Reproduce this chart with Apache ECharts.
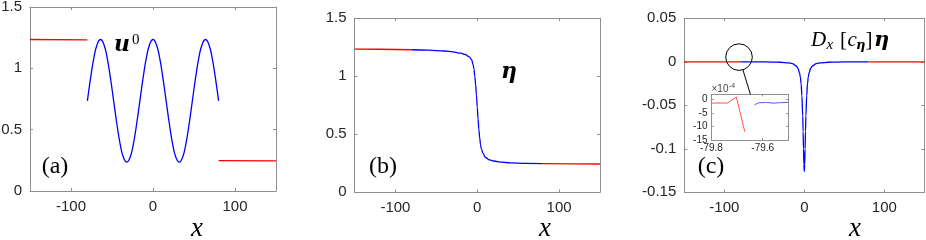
<!DOCTYPE html>
<html><head><meta charset="utf-8">
<script src="https://cdn.jsdelivr.net/npm/echarts@6/dist/echarts.min.js"></script>
<style>html,body{margin:0;padding:0;background:#fff}#c{width:926px;height:240px}</style>
</head><body><div id="c"></div>
<script>
// ---------- data ----------
const mainXTicks = [-100, 0, 100];
const profYTicks = [0, 0.5, 1, 1.5];
const derivYTicks = [-0.15, -0.1, -0.05, 0, 0.05];
const insetXTicks = [-79.8, -79.6];
const insetYTicks = [-15, -10, -5, 0];

// panel (a): u0
const uLeftX = [-150, -80];
const uLeftY = [1.235, 1.232];
const uRightX = [80, 150];
const uRightY = [0.247, 0.245];
const uMidX = [-80,-76,-72,-68,-64,-60,-56,-52,-48,-44,-40,-36,-32,-28,-24,-20,-16,-12,-8,-4,0,4,8,12,16,20,24,28,32,36,40,44,48,52,56,60,64,68,72,76,80];
const uMidY = [0.735,0.926,1.089,1.197,1.235,1.197,1.089,0.926,0.735,0.544,0.381,0.273,0.235,0.273,0.381,0.544,0.735,0.926,1.089,1.197,1.235,1.197,1.089,0.926,0.735,0.544,0.381,0.273,0.235,0.273,0.381,0.544,0.735,0.926,1.089,1.197,1.235,1.197,1.089,0.926,0.735];

// panel (b): eta
const etaLeftX = [-150, -120, -80];
const etaLeftY = [1.235, 1.233, 1.229];
const etaMidX = [-80,-60,-40,-30,-20,-15,-10,-7,-5,-4,-3,-2,-1,0,1,2,3,4,5,7,10,15,20,30,40,60,80];
const etaMidY = [1.229,1.225,1.218,1.211,1.199,1.189,1.170,1.145,1.100,1.060,1.000,0.930,0.840,0.735,0.630,0.540,0.470,0.410,0.375,0.335,0.300,0.280,0.270,0.260,0.254,0.249,0.247];
const etaRightX = [80, 120, 150];
const etaRightY = [0.247, 0.245, 0.244];

// panel (c): D_x[c_eta] eta
const dLeftX = [-150, -80];
const dLeftY = [0, 0];
const dMidX = [-80,-60,-40,-30,-20,-15,-10,-8,-6,-5,-4,-3,-2,-1.5,-1,-0.5,0,0.5,1,1.5,2,3,4,5,6,8,10,15,20,30,40,60,80];
const dMidY = [0,-0.0001,-0.0003,-0.0005,-0.0012,-0.0021,-0.0048,-0.0074,-0.0126,-0.0174,-0.025,-0.039,-0.062,-0.080,-0.100,-0.118,-0.126,-0.118,-0.100,-0.080,-0.062,-0.039,-0.025,-0.0174,-0.0126,-0.0074,-0.0048,-0.0021,-0.0012,-0.0005,-0.0003,-0.0001,0];
const dRightX = [80, 150];
const dRightY = [0, 0];

// inset of (c), units of 1e-4
const insetRedX = [-79.8, -79.738, -79.703, -79.670];
const insetRedY = [-1.25, -1.25, 1.0, -11.9];
const insetBlueX = [-79.632, -79.617, -79.585, -79.56, -79.53, -79.5];
const insetBlueY = [-1.9, -1.2, -1.0, -1.3, -1.1, -1.0];

// ---------- build ----------
const zip = (xs, ys) => xs.map((x, i) => [x, ys[i]]);
const AX = '#8f8f8f', TXT = '#262626';
const RED = '#ff0000', BLUE = '#0000ff';
const fmt = v => String(Math.round(v * 100) / 100);

function xAxes(gi, min, max, ticks, fs, tl, margin) {
  const base = {
    type: 'value', gridIndex: gi, min, max, splitLine: {show: false},
    axisLine: {show: true, onZero: false, lineStyle: {color: AX, width: 1}},
    axisTick: {show: true, inside: true, length: tl, customValues: ticks, lineStyle: {color: AX, width: 1}}
  };
  return [
    Object.assign({}, base, {position: 'bottom',
      axisLabel: {show: true, customValues: ticks, color: TXT, fontSize: fs, fontFamily: 'Liberation Sans', margin, formatter: fmt}}),
    Object.assign({}, base, {position: 'top', axisLabel: {show: false}})
  ];
}
function yAxes(gi, min, max, ticks, fs, tl, margin) {
  const base = {
    type: 'value', gridIndex: gi, min, max, splitLine: {show: false},
    axisLine: {show: true, onZero: false, lineStyle: {color: AX, width: 1}},
    axisTick: {show: true, inside: true, length: tl, customValues: ticks, lineStyle: {color: AX, width: 1}}
  };
  return [
    Object.assign({}, base, {position: 'left',
      axisLabel: {show: true, customValues: ticks, color: TXT, fontSize: fs, fontFamily: 'Liberation Sans', margin, formatter: fmt}}),
    Object.assign({}, base, {position: 'right', axisLabel: {show: false}})
  ];
}

const grids = [
  {left: 30, top: 7, width: 246, height: 184},
  {left: 354.5, top: 18.3, width: 245.5, height: 174},
  {left: 684.3, top: 18.3, width: 240, height: 174},
  {left: 711.5, top: 94.3, width: 76.8, height: 45.7, show: true, backgroundColor: '#fff', borderWidth: 0}
].map(g => Object.assign({containLabel: false, outerBoundsMode: 'none'}, g));

const xAxis = [].concat(
  xAxes(0, -150, 150, mainXTicks, 15, 3, 8),
  xAxes(1, -150, 150, mainXTicks, 15, 3, 8),
  xAxes(2, -150, 150, mainXTicks, 15, 3, 8),
  xAxes(3, -79.8, -79.5, insetXTicks, 10, 2, 3)
);
const yAxis = [].concat(
  yAxes(0, 0, 1.5, profYTicks, 15, 3, 8),
  yAxes(1, 0, 1.5, profYTicks, 15, 3, 8),
  yAxes(2, -0.15, 0.05, derivYTicks, 15, 3, 8),
  yAxes(3, -15, 2, insetYTicks, 10, 2, 4)
);

function line(ax, xs, ys, color, w, smooth, mono) {
  const s = {
    type: 'line', xAxisIndex: ax * 2, yAxisIndex: ax * 2, data: zip(xs, ys),
    showSymbol: false, symbol: 'none', silent: true, animation: false,
    smooth: smooth || false,
    lineStyle: {color, width: w}, clip: true
  };
  if (mono) s.smoothMonotone = 'x';
  return s;
}

const series = [
  line(0, uLeftX, uLeftY, RED, 1.3),
  line(0, uRightX, uRightY, RED, 1.3),
  line(0, uMidX, uMidY, BLUE, 1.3, 0.5, false),
  line(1, etaLeftX, etaLeftY, RED, 1.3),
  line(1, etaMidX, etaMidY, BLUE, 1.3, 0.4, true),
  line(1, etaRightX, etaRightY, RED, 1.3),
  line(2, dLeftX, dLeftY, RED, 1.3),
  line(2, dMidX, dMidY, BLUE, 1.3, 0.4, true),
  line(2, dRightX, dRightY, RED, 1.3),
  line(3, insetRedX, insetRedY, '#ff5050', 1),
  line(3, insetBlueX, insetBlueY, '#5a5aff', 1)
];

const chart = echarts.init(document.getElementById('c'), null, {renderer: 'canvas'});
chart.setOption({animation: false, backgroundColor: '#fff', grid: grids, xAxis, yAxis, series});

// ---------- annotations ----------
function t(x, y, text, font, align, fill) {
  return {type: 'text', x, y, z: 100, silent: true,
    style: {text, font, fill: fill || '#000', align: align || 'left', verticalAlign: 'middle'}};
}
const SER = '"Liberation Serif"';
const BI = 'italic bold 22px "DejaVu Serif"';
const g = [
  t(197, 228.5, 'x', 'italic 27px ' + SER, 'center'),
  t(545, 228.5, 'x', 'italic 27px ' + SER, 'center'),
  t(855, 228.5, 'x', 'italic 27px ' + SER, 'center'),
  t(55, 167, '(a)', '24px ' + SER, 'center'),
  t(383, 167, '(b)', '24px ' + SER, 'center'),
  t(711, 167, '(c)', '24px ' + SER, 'center'),
  t(114, 45.5, 'u', BI),
  t(132, 40, '0', '15px ' + SER),
  t(501, 72.5, 'η', BI),
  t(811, 40.2, 'D', 'italic 21px ' + SER),
  t(826.5, 45.5, 'x', 'italic 15px ' + SER),
  t(840, 40.2, '[', '21px ' + SER),
  t(847.5, 40.2, 'c', 'italic 21px ' + SER),
  t(856, 46, 'η', 'italic bold 13px "DejaVu Serif"'),
  t(865.5, 40.2, ']', '21px ' + SER),
  t(874, 40.2, 'η', 'italic bold 21px "DejaVu Serif"'),
  t(711.5, 89.5, '×10', '10px "Liberation Sans"', 'left', '#444'),
  t(729, 86, '-4', '7px "Liberation Sans"', 'left', '#444')
];
const c = chart.convertToPixel({gridIndex: 2}, [-81.6, 0.0054]);
const e = chart.convertToPixel({gridIndex: 3}, [-79.648, 2]);
const r = 13.3;
const dx = e[0] - c[0], dy = e[1] - c[1], L = Math.hypot(dx, dy);
g.push({type: 'circle', z: 100, silent: true, shape: {cx: c[0], cy: c[1], r},
  style: {stroke: '#000', fill: null, lineWidth: 1}});
g.push({type: 'line', z: 100, silent: true,
  shape: {x1: c[0] + dx / L * r, y1: c[1] + dy / L * r, x2: e[0], y2: e[1]},
  style: {stroke: '#000', lineWidth: 1}});
chart.setOption({graphic: g});
</script></body></html>
